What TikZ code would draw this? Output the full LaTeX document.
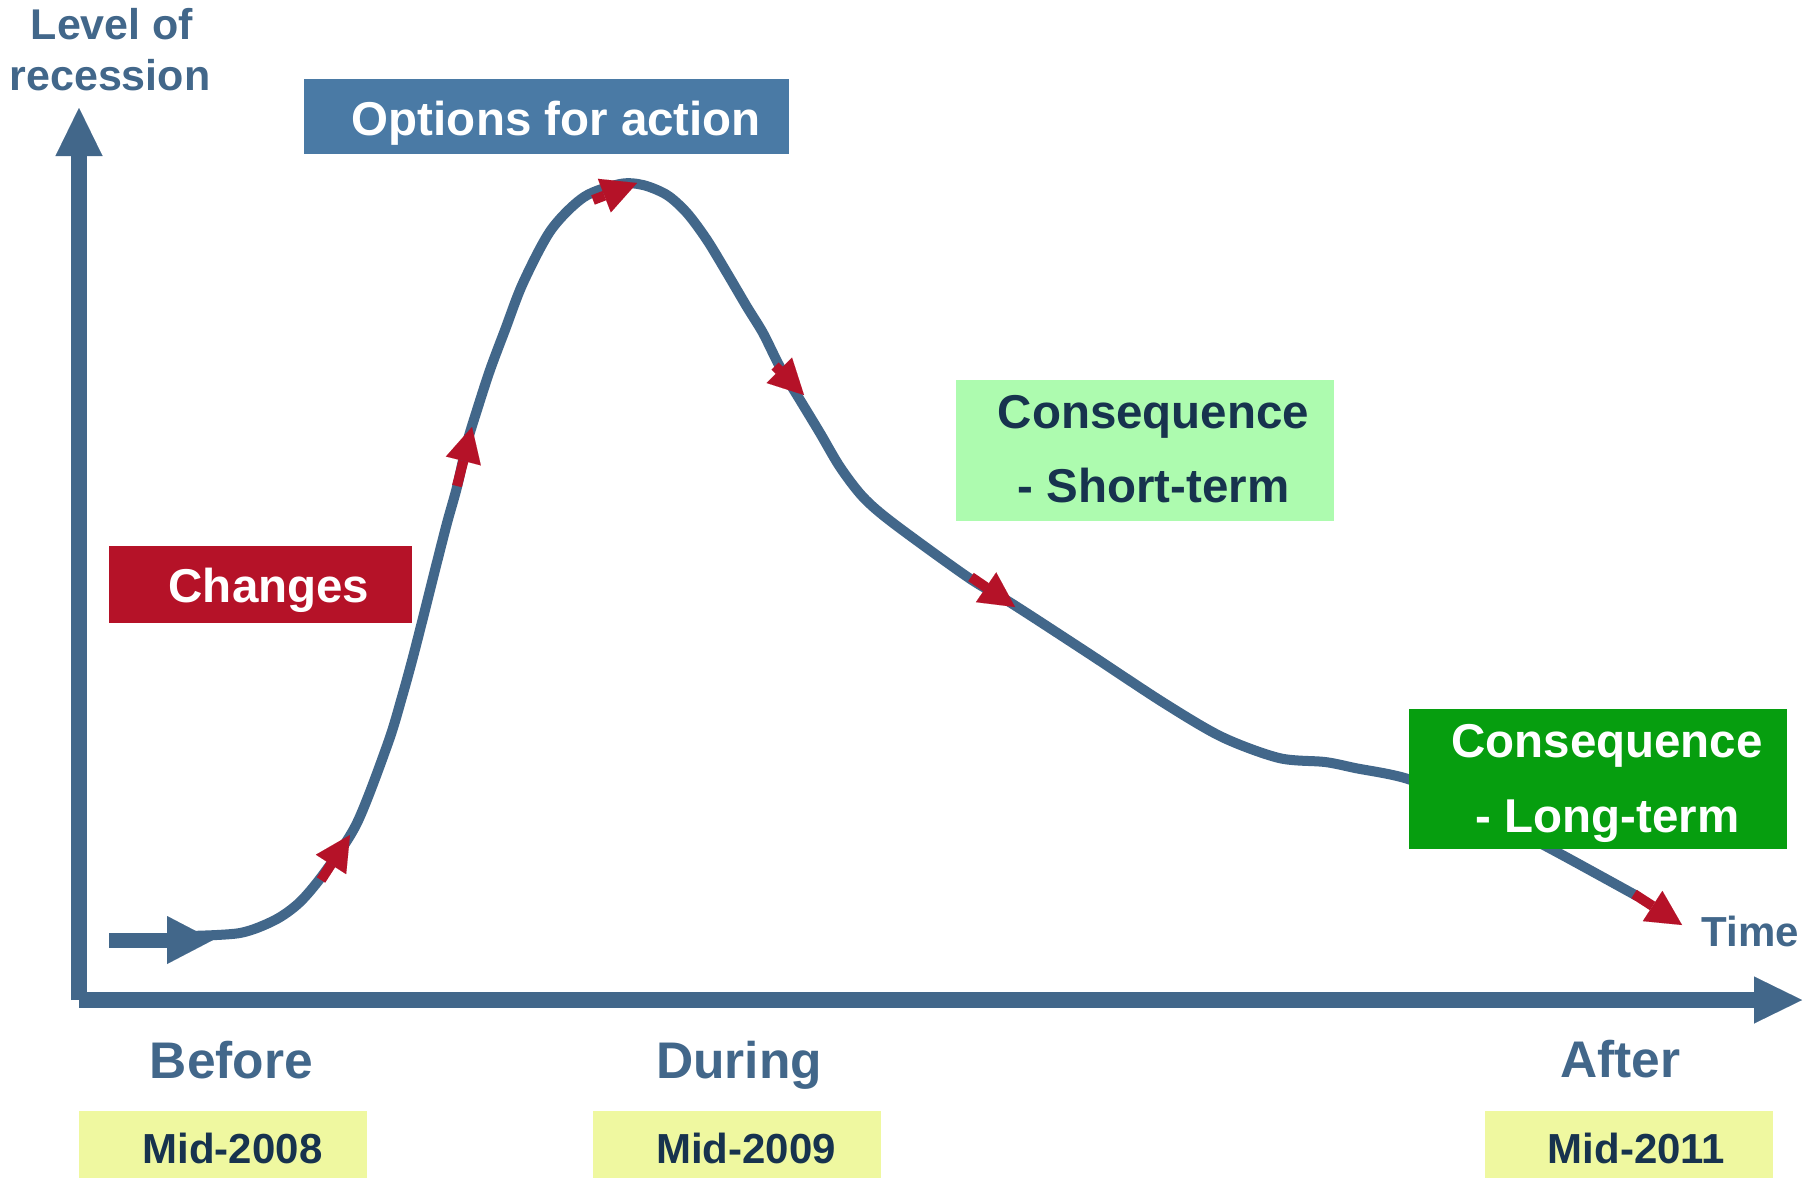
\documentclass[tikz,border=0pt]{standalone}
\usepackage{fontspec}
\setmainfont{Liberation Sans}
\usetikzlibrary{arrows.meta}
\definecolor{axisblue}{HTML}{42678A}
\definecolor{optblue}{HTML}{4A7AA5}
\definecolor{redc}{HTML}{B51228}
\definecolor{lightgreen}{HTML}{ADFBAF}
\definecolor{darkgreen}{HTML}{069E0F}
\definecolor{paleyellow}{HTML}{EFF8A0}
\definecolor{navy}{HTML}{17334E}
\begin{document}
\begin{tikzpicture}[x=1pt,y=-1pt,
  axisline/.style={draw=axisblue,line width=16pt,-{Triangle[length=48pt,width=47pt,line width=0.01pt]}},
  stub/.style={draw=axisblue,line width=15pt,-{Triangle[length=46pt,width=48pt,line width=0.01pt]}},
  curve/.style={draw=axisblue,line width=10pt,line join=round},
  redarrow/.style={draw=redc,line width=10pt,-{Triangle[length=35pt,width=36pt,line width=0.01pt]}},
  box/.style={inner sep=0pt,outer sep=0pt,draw=none},
  boxtxt/.style={inner sep=0pt,anchor=base,font=\bfseries\fontsize{47.5}{57}\selectfont},
  axtxt/.style={inner sep=0pt,anchor=base,text=axisblue,font=\bfseries\fontsize{51.5}{60}\selectfont},
  datetxt/.style={inner sep=0pt,anchor=base,text=navy,font=\bfseries\fontsize{42}{50}\selectfont},
  smalltxt/.style={inner sep=0pt,anchor=base,text=axisblue,font=\bfseries\fontsize{43}{50}\selectfont}
]
\useasboundingbox (0,0) rectangle (1815,1178);
\fill[white] (0,0) rectangle (1815,1178);

% axes
\coordinate (origin) at (79,1000);
\coordinate (ytip) at (79,108);
\coordinate (xtip) at (1802,1000);
\draw[axisline] (origin) -- (ytip);
\draw[axisline] (origin) -- (xtip);

% starting stub
\coordinate (stubA) at (109,940);
\coordinate (stubB) at (213,940);
\draw[stub] (stubA) -- (stubB);

% curve
\draw[curve] plot[smooth,tension=0.5] coordinates {
 (188,936) (240,933) (275,920) (300,902) (325,872) (357,823) (388,743)
 (402,697) (413,657) (425,610) (435,570) (447,523) (457,487) (467,443)
 (477,410) (490,370) (505,330) (523,283) (551,230) (584,197) (620,184)
 (643,185) (667,195) (687,213) (707,240) (727,273) (747,307) (763,333)
 (780,367) (800,400) (820,433) (840,467) (863,497) (893,523) (969,578)
 (1011,603) (1088,653) (1164,703) (1222,737) (1279,758) (1325,762)
 (1355,768) (1411,780) (1480,812) (1553,850) (1637,896)};

% red arrows
\coordinate (r1a) at (321,880); \coordinate (r1b) at (350,835);
\coordinate (r2a) at (457,486); \coordinate (r2b) at (472,427);
\coordinate (r3a) at (593,200); \coordinate (r3b) at (637,183);
\coordinate (r4a) at (775,366); \coordinate (r4b) at (804,395);
\coordinate (r5a) at (971,577); \coordinate (r5b) at (1015,607);
\coordinate (r6a) at (1634,894); \coordinate (r6b) at (1682,925);
\draw[redarrow] (r1a) -- (r1b);
\draw[redarrow] (r2a) -- (r2b);
\draw[redarrow] (r3a) -- (r3b);
\draw[redarrow] (r4a) -- (r4b);
\draw[redarrow] (r5a) -- (r5b);
\draw[redarrow] (r6a) -- (r6b);

% boxes
\node[box,fill=optblue,minimum width=485pt,minimum height=75pt] (opt) at (546.5,116.5) {};
\node[box,fill=redc,minimum width=303pt,minimum height=77pt] (chg) at (260.5,584.5) {};
\node[box,fill=lightgreen,minimum width=378pt,minimum height=141pt] (st) at (1145,450.5) {};
\node[box,fill=darkgreen,minimum width=378pt,minimum height=140pt] (lt) at (1598,779) {};
\node[box,fill=paleyellow,minimum width=288pt,minimum height=67pt] (m08) at (223,1144.5) {};
\node[box,fill=paleyellow,minimum width=288pt,minimum height=67pt] (m09) at (737,1144.5) {};
\node[box,fill=paleyellow,minimum width=288pt,minimum height=67pt] (m11) at (1629,1144.5) {};

% texts
\node[smalltxt] (lvl1) at (112,39) {Level of};
\node[smalltxt] (lvl2) at (110,90) {recession};
\node[boxtxt,text=white] (optt) at (556.5,135) {Options for action};
\node[boxtxt,text=white] (chgt) at (269,602) {Changes};
\node[boxtxt,text=navy] (st1) at (1153.5,428) {Consequence};
\node[boxtxt,text=navy] (st2) at (1153.5,502) {- Short-term};
\node[boxtxt,text=white] (lt1) at (1607,757) {Consequence};
\node[boxtxt,text=white] (lt2) at (1607.5,832) {- Long-term};
\node[inner sep=0pt,anchor=base,text=axisblue,font=\bfseries\fontsize{42}{50}\selectfont] (time) at (1750.5,946) {Time};
\node[axtxt] (before) at (231.5,1078) {Before};
\node[axtxt] (during) at (739,1078) {During};
\node[axtxt] (after) at (1620.5,1077) {After};
\node[datetxt] (d08) at (232.5,1163) {Mid-2008};
\node[datetxt] (d09) at (746,1163) {Mid-2009};
\node[datetxt] (d11) at (1636.5,1163) {Mid-2011};
\end{tikzpicture}
\end{document}
